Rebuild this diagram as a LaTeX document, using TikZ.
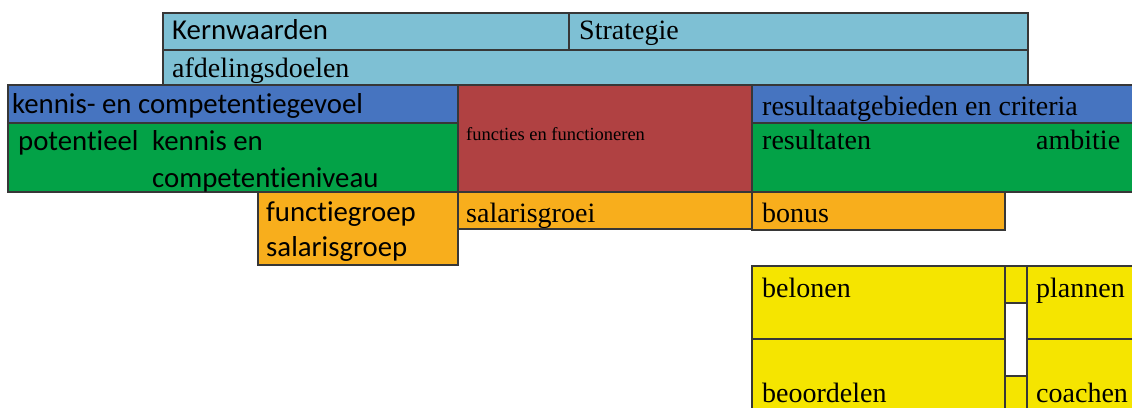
\documentclass[tikz,border=0pt]{standalone}
\usepackage{fontspec}
\setmainfont{Liberation Serif}
\newfontfamily\calfont[Ligatures=NoCommon]{Carlito}
\usepackage{tikz}

\definecolor{kernblue}{RGB}{126,192,212}
\definecolor{barblue}{RGB}{70,116,192}
\definecolor{funcred}{RGB}{176,65,66}
\definecolor{potgreen}{RGB}{3,162,71}
\definecolor{salorange}{RGB}{248,174,28}
\definecolor{beloyellow}{RGB}{245,229,0}
\definecolor{edgegray}{RGB}{55,55,55}

\begin{document}
\begin{tikzpicture}[x=1pt,y=-1pt]
  \tikzset{cell/.style = {draw=edgegray,line width=1.1pt}}
  \tikzset{sanslabel/.style = {anchor=base west,inner sep=0pt,font=\calfont\fontsize{28.8}{30}\selectfont}}
  \tikzset{seriflabel/.style = {anchor=base west,inner sep=0pt,font=\fontsize{28}{30}\selectfont}}
  \tikzset{smalllabel/.style = {anchor=base west,inner sep=0pt,font=\fontsize{18.5}{20}\selectfont}}

  \useasboundingbox (0,0) rectangle (1132,407);
  \clip (0,0) rectangle (1132,407);

  % cells
  \foreach \xa/\ya/\xb/\yb/\col in {163/13/569/50/kernblue, 569/13/1028/50/kernblue, 163/50/1028/85/kernblue,
      8/85/458/123/barblue, 752/85/1140/123/barblue, 458/85/752/192/funcred,
      8/123/458/192/potgreen, 752/123/1140/192/potgreen,
      258/192/458/265/salorange, 458/192/752/229/salorange, 752/192/1005/230/salorange,
      752/266/1005/339/beloyellow, 752/339/1005/415/beloyellow,
      1005/266/1027/303/beloyellow, 1005/303/1027/376/white, 1005/376/1027/415/beloyellow,
      1027/266/1140/339/beloyellow, 1027/339/1140/415/beloyellow}
    \draw[cell,fill=\col] (\xa,\ya) rectangle (\xb,\yb);

  % labels
  \node[sanslabel] (kern) at (172,39) {Kernwaarden};
  \node[seriflabel] (strat) at (579,39) {Strategie};
  \node[seriflabel] (afd) at (172,77) {afdelingsdoelen};
  \node[sanslabel] (gevoel) at (12,113) {kennis- en competentiegevoel};
  \node[sanslabel] (pot) at (18,150) {potentieel};
  \node[sanslabel] (kennis) at (152,150) {kennis en};
  \node[sanslabel] (niveau) at (152,187) {competentieniveau};
  \node[smalllabel] (func) at (466,140) {functies en functioneren};
  \node[seriflabel] (gebied) at (762,115) {resultaatgebieden en criteria};
  \node[seriflabel] (result) at (762,149) {resultaten};
  \node[seriflabel] (ambitie) at (1036,149) {ambitie};
  \node[sanslabel] (fgroep) at (266,221) {functiegroep};
  \node[sanslabel] (sgroep) at (266,256) {salarisgroep};
  \node[seriflabel] (groei) at (466,222) {salarisgroei};
  \node[seriflabel] (bonus) at (762,222) {bonus};
  \node[seriflabel] (belonen) at (762,297) {belonen};
  \node[seriflabel] (plannen) at (1036,297) {plannen};
  \node[seriflabel] (beoord) at (762,402) {beoordelen};
  \node[seriflabel] (coachen) at (1036,402) {coachen};
\end{tikzpicture}
\end{document}
